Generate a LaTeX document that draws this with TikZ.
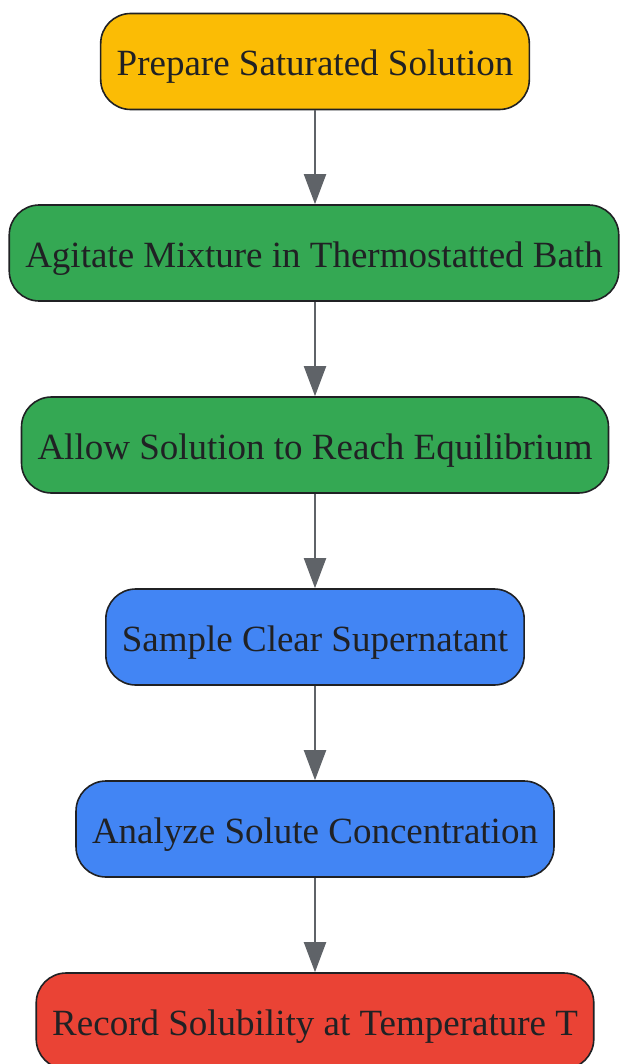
\documentclass[tikz,border=0pt]{standalone}
\usepackage{fontspec}
\setmainfont{Liberation Serif}
\usepackage{xcolor}
\usetikzlibrary{arrows.meta}
\definecolor{stepyellow}{HTML}{FBBC05}
\definecolor{stepgreen}{HTML}{34A853}
\definecolor{stepblue}{HTML}{4285F4}
\definecolor{stepred}{HTML}{EA4335}
\definecolor{edgegray}{HTML}{5F6368}
\definecolor{inkdark}{HTML}{202124}
\begin{document}
\begin{tikzpicture}[x=1pt,y=1pt,
  stepbox/.style={draw=inkdark,line width=1.6pt,rounded corners=30pt,minimum height=96pt,
    inner xsep=16pt,text height=29pt,text depth=0pt,text=inkdark,font=\fontsize{37}{42}\selectfont},
  flow/.style={-{Triangle[width=22pt,length=30pt]},line width=2pt,edgegray}]
\useasboundingbox (0,0) rectangle (619,-1064);
\node[stepbox,fill=stepyellow] (prep) at (315,-61.5) {Prepare Saturated Solution};
\node[stepbox,fill=stepgreen] (agit) at (314,-253) {Agitate Mixture in Thermostatted Bath};
\node[stepbox,fill=stepgreen] (equil) at (315,-445) {Allow Solution to Reach Equilibrium};
\node[stepbox,fill=stepblue] (sample) at (315,-637) {Sample Clear Supernatant};
\node[stepbox,fill=stepblue] (analyze) at (315,-829) {Analyze Solute Concentration};
\node[stepbox,fill=stepred] (record) at (315,-1021) {Record Solubility at Temperature T};
\draw[flow] (prep.south -| 315,0) -- (agit.north -| 315,0);
\draw[flow] (agit.south -| 315,0) -- (equil.north -| 315,0);
\draw[flow] (equil) -- (sample);
\draw[flow] (sample) -- (analyze);
\draw[flow] (analyze) -- (record);
\end{tikzpicture}
\end{document}
